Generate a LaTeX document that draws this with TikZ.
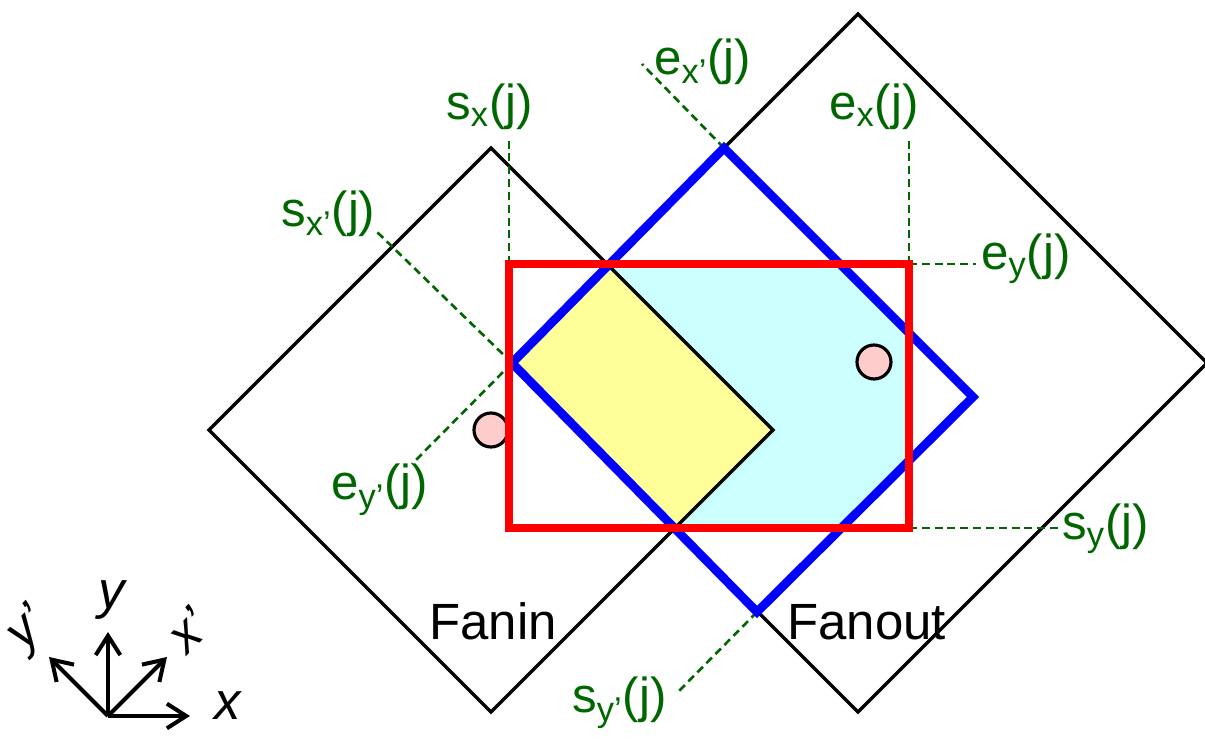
\documentclass[tikz,border=0pt]{standalone}
\usepackage{fontspec}
\setmainfont{Liberation Sans}
\usetikzlibrary{arrows.meta}
\definecolor{leadgreen}{RGB}{0,102,0}
\definecolor{cyanfill}{RGB}{204,255,255}
\definecolor{yellowfill}{RGB}{255,255,153}
\definecolor{dotpink}{RGB}{255,204,204}
% diamond of half-diagonal #2 around coordinate #1
\newcommand{\diam}[2]{(#1) +(0,-#2) -- +(#2,0) -- +(0,#2) -- +(-#2,0) -- cycle}

\begin{document}
\begin{tikzpicture}[x=0.02cm,y=-0.02cm,
  every node/.style={inner sep=0pt},
  lbl/.style={anchor=base west,text=leadgreen,font=\fontsize{28}{30}\selectfont},
  region/.style={anchor=base west,font=\fontsize{29}{32}\selectfont},
  lead/.style={draw=leadgreen,line width=1.5pt,dash pattern=on 4.5pt off 2.8pt},
  dot/.style={circle,draw,line width=1.8pt,fill=dotpink,minimum size=0.68cm},
  axis/.style={line width=2.3pt,-{Straight Barb[length=11pt,width=14pt,line width=2.3pt]}}]
  \useasboundingbox (0,0) rectangle (1205,742);
  \coordinate (fi) at (491,430);
  \coordinate (fo) at (858,363);
  \coordinate (bL) at (512,363);
  \coordinate (bT) at (724,148);
  \coordinate (bR) at (973,397);
  \coordinate (bB) at (757,612);
  \coordinate (rA) at (509,264);
  \coordinate (rB) at (909,264);
  \coordinate (rC) at (909,528);
  \begin{scope}
    \clip (rA) rectangle (rC);
    \fill[cyanfill] (bL) -- (bT) -- (bR) -- (bB) -- cycle;
    \clip (bL) -- (bT) -- (bR) -- (bB) -- cycle;
    \fill[yellowfill] \diam{fi}{282};
  \end{scope}
  \draw[line width=1.9pt] \diam{fi}{282};
  \draw[line width=1.9pt] \diam{fo}{349};
  % leaders
  \coordinate (sxE) at (509,137);
  \coordinate (exE) at (909,137);
  \coordinate (eyE) at (976,264);
  \coordinate (syE) at (1060,528);
  \coordinate (sxpE) at (376,231);
  \coordinate (expE) at (642,64);
  \coordinate (eypE) at (412,464);
  \coordinate (sypE) at (678,692);
  \draw[lead] (rA) -- (sxE);
  \draw[lead] (rB) -- (exE);
  \draw[lead] (rB) -- (eyE);
  \draw[lead] (rC) -- (syE);
  \draw[lead] (bL) -- (sxpE);
  \draw[lead] (bT) -- (expE);
  \draw[lead] (bL) -- (eypE);
  \draw[lead] (bB) -- (sypE);
  \node[dot] (pin) at (491,430) {};
  \node[dot] (pout) at (874,362) {};
  \draw[blue,line width=5pt] (bL) -- (bT) -- (bR) -- (bB) -- cycle;
  \draw[red,line width=5pt] (rA) rectangle (rC);
  \node[lbl] (sx) at (446,120) {s\textsubscript{x}(j)};
  \node[lbl] (ex) at (829,120) {e\textsubscript{x}(j)};
  \node[lbl] (exp) at (654,75) {e\textsubscript{x’}(j)};
  \node[lbl] (sxp) at (281,227) {s\textsubscript{x’}(j)};
  \node[lbl] (ey) at (981,270) {e\textsubscript{y}(j)};
  \node[lbl] (eyp) at (331,500) {e\textsubscript{y’}(j)};
  \node[lbl] (sy) at (1062,540) {s\textsubscript{y}(j)};
  \node[lbl] (syp) at (572,713) {s\textsubscript{y’}(j)};
  \node[region] (fanin) at (429,640) {Fanin};
  \node[region] (fanout) at (787,640) {Fanout};
  % axes
  \coordinate (o) at (108,716);
  \coordinate (xT) at (190,716);
  \coordinate (yT) at (108,632);
  \coordinate (xpT) at (167,657);
  \coordinate (ypT) at (49,657);
  \foreach \t in {xT,yT,xpT,ypT} {
    \draw[axis] (o) -- (\t);
  }
  \node[font=\fontsize{30}{32}\selectfont\itshape] (xl) at (228,706) {x};
  \node[font=\fontsize{30}{32}\selectfont\itshape] (yl) at (112,600) {y};
  \node[font=\fontsize{29}{32}\selectfont\itshape,rotate=45] (xpl) at (188,630) {x’};
  \node[font=\fontsize{29}{32}\selectfont\itshape,rotate=45] (ypl) at (29,630) {y’};
\end{tikzpicture}
\end{document}
